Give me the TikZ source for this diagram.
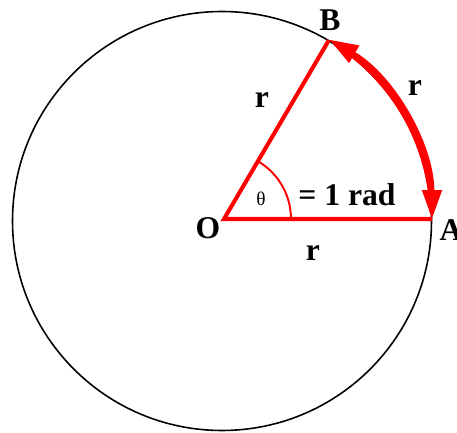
\documentclass[tikz,border=0pt]{standalone}
\usepackage{fontspec}
\setmainfont{Liberation Serif}
\usetikzlibrary{arrows.meta}

\begin{document}
\begin{tikzpicture}[x=0.02cm, y=0.02cm,
    rim/.style={black, line width=0.9pt},
    side/.style={red, line width=2.3pt, line join=miter},
    arcbody/.style={red, line width=2.7pt},
    arcline/.style={arcbody, {Triangle[length=0.58cm, width=0.38cm]}-{Triangle[length=0.58cm, width=0.38cm]}},
    ang/.style={red, line width=1.1pt},
    lbl/.style={font=\bfseries\fontsize{18}{21}\selectfont, inner sep=0pt}
]
    \useasboundingbox (0,0) rectangle (457,433);

    \coordinate (C) at (222,212);
    \coordinate (O) at (224,214);
    \coordinate (A) at (432,214);
    \coordinate (B) at (329,393);

    \draw[rim] (C) circle[radius=209.5];
    \draw[side] (B) -- (O) -- (A);
    \draw[ang] (O) ++(0:67) arc[start angle=0, end angle=59.6, radius=67];
    % arc A-B: heads, then an unshortened body on top
    \draw[arcline] (A) arc[start angle=0, end angle=59.6, radius=208];
    \draw[arcbody] (O) ++(2:208) arc[start angle=2, end angle=57.6, radius=208];

    \node[lbl] (lO) at (208,205) {O};
    \node[lbl] (lA) at (451,203) {A};
    \node[lbl] (lB) at (330,413) {B};
    \node[lbl] (rOB) at (262,333) {r};
    \node[lbl] (rAB) at (415,345) {r};
    \node[lbl] (rOA) at (313,180) {r};
    \node[font=\fontsize{11}{13}\selectfont, inner sep=0pt] (th) at (261,234) {θ};
    \node[lbl] (rad) at (347,238) {= 1 rad};
\end{tikzpicture}
\end{document}
